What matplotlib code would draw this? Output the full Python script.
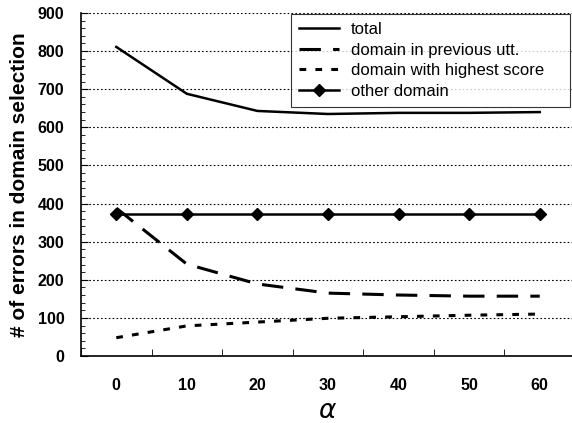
import numpy as np
import matplotlib.pyplot as plt

alpha = [0, 10, 20, 30, 40, 50, 60]
total = [811, 688, 643, 635, 638, 638, 640]
prev_utt = [388, 241, 189, 165, 160, 157, 157]
highest = [48, 79, 89, 99, 103, 107, 110]
other = [372, 372, 372, 372, 372, 372, 372]

plt.rcParams['font.family'] = ['Liberation Sans', 'DejaVu Sans']

fig = plt.figure(figsize=(5.72, 4.23), dpi=100)
ax = fig.add_axes([81/572, 67/423, 494/572, 343/423])

x = np.arange(len(alpha))
ax.plot(x, total, color='black', lw=1.8, label='total')
ax.plot(x, prev_utt, color='black', lw=2.2, dashes=(7, 4), label='domain in previous utt.')
ax.plot(x, highest, color='black', lw=2.2, dashes=(2.2, 3), label='domain with highest score')
ax.plot(x, other, color='black', lw=1.8, marker='D', markersize=6, label='other domain')

ax.set_xlim(-0.5, 6.5)
ax.set_ylim(0, 900)
ax.set_xticks(x)
ax.set_xticklabels([str(a) for a in alpha], fontsize=11.5, fontweight='bold')
ax.set_xticks(np.arange(-0.5, 7, 1), minor=True)
ax.tick_params(axis='x', which='major', length=0, pad=16)
ax.tick_params(axis='x', which='minor', length=5, direction='in')
ax.set_yticks(np.arange(0, 901, 100))
ax.set_yticks(np.arange(0, 901, 20), minor=True)
ax.tick_params(axis='y', which='major', length=5, direction='in', labelsize=11.5, pad=12)
ax.tick_params(axis='y', which='minor', length=3, direction='in')
for lab in ax.get_yticklabels():
    lab.set_fontweight('bold')
ax.grid(axis='y', which='major', color='black', linestyle=(0, (1.5, 2)), lw=0.8)
ax.spines['top'].set_visible(False)
ax.spines['right'].set_visible(False)
ax.spines['left'].set_linewidth(1.2)
ax.spines['bottom'].set_linewidth(1.2)

ax.set_xlabel(r'$\alpha$', fontsize=19, labelpad=4)
ax.set_ylabel('# of errors in domain selection', fontsize=15, fontweight='bold', labelpad=6)

leg = ax.legend(loc='upper left', bbox_to_anchor=(0.425, 0.0, 0.565, 0.998), mode='expand',
                fontsize=12, frameon=True, fancybox=False, edgecolor='black',
                handlelength=2.4, borderpad=0.5, labelspacing=0.33, handletextpad=0.7,
                borderaxespad=0)
leg.get_frame().set_linewidth(0.8)

fig.savefig('out.png', dpi=100)
